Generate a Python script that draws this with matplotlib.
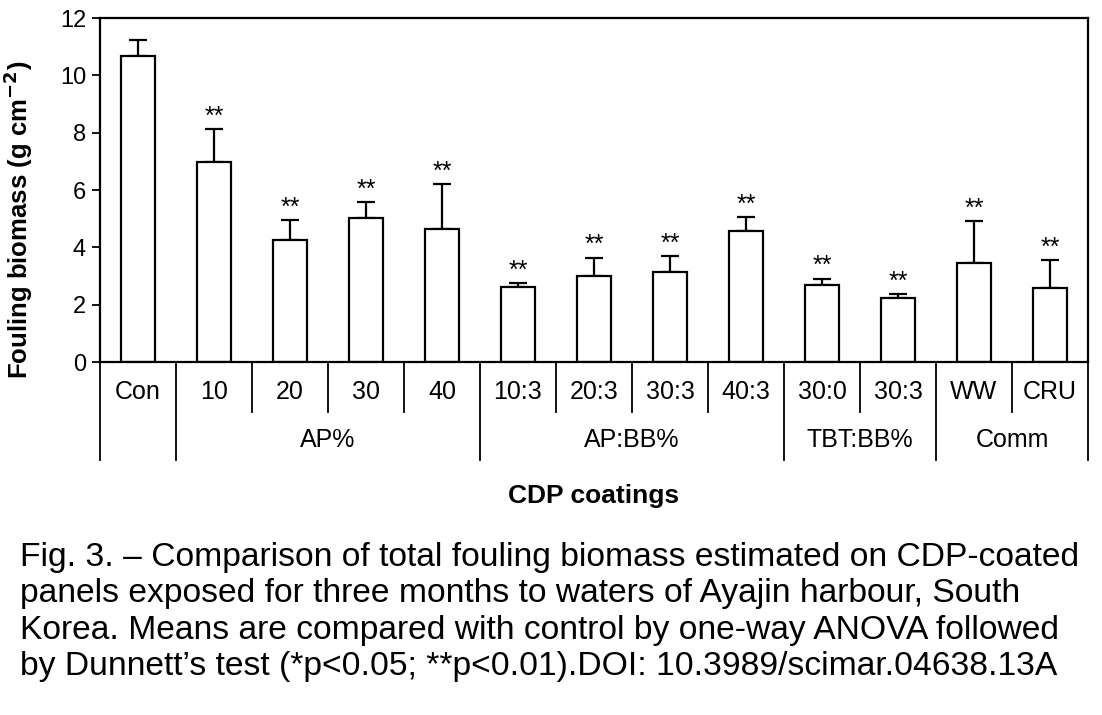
import matplotlib
matplotlib.use("Agg")
from matplotlib import pyplot as plt
from matplotlib import transforms

plt.rcParams['font.family'] = ['Liberation Sans', 'DejaVu Sans']

# data
labels = ['Con', '10', '20', '30', '40', '10:3', '20:3', '30:3', '40:3',
          '30:0', '30:3', 'WW', 'CRU']
biomass = [10.66, 6.99, 4.25, 5.01, 4.65, 2.62, 3.01, 3.15, 4.57,
           2.70, 2.24, 3.47, 2.58]
err_up = [0.59, 1.13, 0.70, 0.57, 1.55, 0.12, 0.63, 0.54, 0.48,
          0.20, 0.13, 1.45, 0.97]
stars = ['', '**', '**', '**', '**', '**', '**', '**', '**',
         '**', '**', '**', '**']
groups = ['', 'AP%', 'AP:BB%', 'TBT:BB%', 'Comm']
group_sizes = [1, 4, 4, 2, 2]

caption = ("Fig. 3. \u2013 Comparison of total fouling biomass estimated on CDP-coated\n"
           "panels exposed for three months to waters of Ayajin harbour, South\n"
           "Korea. Means are compared with control by one-way ANOVA followed\n"
           "by Dunnett\u2019s test (*p<0.05; **p<0.01).DOI: 10.3989/scimar.04638.13A")

fig = plt.figure(figsize=(11.02, 7.15), dpi=100)
ax = fig.add_axes([0.0907, 0.4937, 0.8966, 0.4811])

x = list(range(len(labels)))
ax.bar(x, biomass, width=0.44, color='white', edgecolor='black', linewidth=1.6, zorder=2)
ax.errorbar(x, biomass, yerr=[[0] * len(x), err_up], fmt='none', ecolor='black',
            elinewidth=1.6, capsize=6.5, capthick=1.6, zorder=1)
for xi, v, e, s in zip(x, biomass, err_up, stars):
    if s:
        ax.text(xi, v + e + 0.02, s, ha='center', va='bottom', fontsize=18)

ax.set_xlim(-0.5, len(labels) - 0.5)
ax.set_ylim(0, 12)
ax.set_yticks(range(0, 13, 2))
ax.set_xticks([])
ax.tick_params(axis='y', labelsize=17, width=1.3, length=6, pad=4)
for sp in ax.spines.values():
    sp.set_linewidth(1.6)
ax.set_ylabel('Fouling biomass (g cm$^{\\mathbf{-2}}$)', fontsize=18.5, fontweight='bold')
ax.yaxis.set_label_coords(-0.066, 0.413)

# two-row category axis below the plot
trans = transforms.blended_transform_factory(ax.transData, ax.transAxes)
group_edges = [-0.5]
for n in group_sizes:
    group_edges.append(group_edges[-1] + n)
for i, lab in enumerate(labels):
    ax.text(i, -0.087, lab, transform=trans, ha='center', va='center', fontsize=18)
for b in range(len(labels) + 1):
    edge = b - 0.5
    low = -0.285 if edge in group_edges else -0.146
    ax.plot([edge, edge], [0, low], transform=trans, color='black', lw=1.3, clip_on=False)
for g, lo, hi in zip(groups, group_edges[:-1], group_edges[1:]):
    ax.text((lo + hi) / 2, -0.227, g, transform=trans, ha='center', va='center', fontsize=18)

ax.text(0.5, -0.39, 'CDP coatings', transform=ax.transAxes, ha='center', va='center',
        fontsize=19, fontweight='bold')

fig.text(0.018, 0.242, caption, ha='left', va='top', fontsize=24.2, linespacing=1.22)

fig.savefig('out.png', dpi=100)
